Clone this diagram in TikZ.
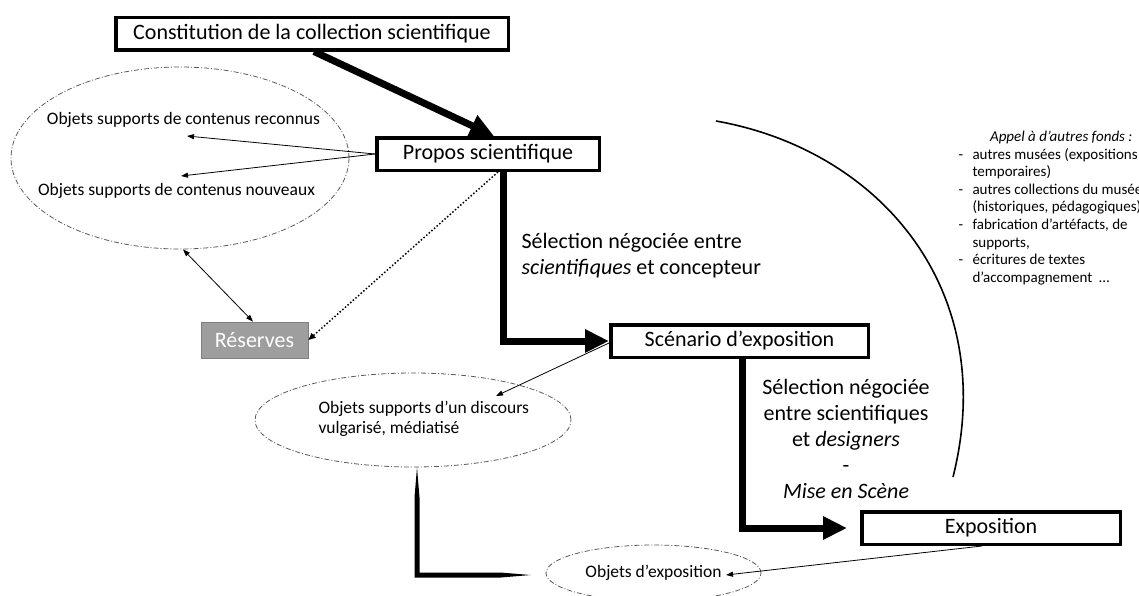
\documentclass[tikz,border=0pt]{standalone}
\usepackage{fontspec}
\setmainfont{Carlito}
\usetikzlibrary{arrows.meta,calc,shapes.geometric}

\begin{document}
\begin{tikzpicture}[x=1pt,y=-1pt,
  box/.style={draw,line width=3.5pt,minimum height=32.5pt,inner sep=0pt,font=\fontsize{22}{26}\selectfont},
  oval/.style={ellipse,draw=black!65,line width=0.8pt,dash pattern=on 5pt off 2pt on 1pt off 2pt,inner sep=0pt},
  small/.style={font=\fontsize{17.5}{20}\selectfont},
  big/.style={font=\fontsize{22}{26}\selectfont},
  thin/.style={line width=0.8pt,-{Triangle[length=7pt,width=5pt]}},
  fat/.style={line width=7pt,-{Triangle[length=24pt,width=22pt]}}]
  \useasboundingbox (0,0) rectangle (1139,595);
  \clip (0,0) rectangle (1139,595);
  % main chain
  \node[box,minimum width=392.5pt] (constitution) at (312,33.5) {Constitution de la collection scientifique};
  \node[box,minimum width=222.5pt] (propos) at (488,154) {Propos scientifique};
  \node[box,minimum width=257.5pt] (scenario) at (739.5,341) {Scénario d’exposition};
  \node[box,minimum width=258.5pt] (exposition) at (991,528) {Exposition};
  \node[fill=black!38,draw=black!50,line width=0.8pt,minimum width=107pt,minimum height=36pt,inner sep=0pt,
        text=white,big] (reserves) at (254.5,340) {Réserves};
  % ovals
  \node[oval,minimum width=338pt,minimum height=182pt] (ovalA) at (180,158) {};
  \node[oval,minimum width=316pt,minimum height=94pt] (ovalB) at (413,420) {};
  \node[oval,minimum width=215pt,minimum height=56pt,small] (ovalC) at (653.5,573) {Objets d’exposition};
  \node[small] (reconnus) at (183.5,120) {Objets supports de contenus reconnus};
  \node[small] (nouveaux) at (176.5,191) {Objets supports de contenus nouveaux};
  \node[small,align=left,anchor=west] (discours) at (315,419) {Objets supports d’un discours\\vulgarisé, médiatisé};
  % labels
  \node[big,align=left,anchor=west] (choix) at (518,256) {Sélection négociée entre\\\textit{scientifiques} et concepteur};
  \node[big,align=center] (mise) at (846,438.5) {Sélection négociée\\entre scientifiques\\et \textit{designers}\\-\\\textit{Mise en Scène}};
  \node[anchor=east,font=\fontsize{15}{17.6}\selectfont\itshape] (appel) at (1136,137) {Appel à d’autres fonds :};
  \node[anchor=west,align=left,font=\fontsize{15}{17.6}\selectfont] (fonds) at (955,216.5)
    {\makebox[14pt][l]{-}autres musées (expositions\\
     \hspace*{14pt}temporaires)\\
     \makebox[14pt][l]{-}autres collections du musée\\
     \hspace*{14pt}(historiques, pédagogiques),\\
     \makebox[14pt][l]{-}fabrication d’artéfacts, de\\
     \hspace*{14pt}supports,\\
     \makebox[14pt][l]{-}écritures de textes\\
     \hspace*{14pt}d’accompagnement~ …};
  % free ends
  \coordinate (pA) at (187,136);
  \coordinate (pB) at (181,176);
  \coordinate (pC) at (496,396);
  \coordinate (pD) at (726,575);
  % thick arrows
  \draw[fat] ([xshift=2pt]constitution.south) -- ([xshift=6pt]propos.north);
  \draw[fat] ([xshift=15pt]propos.south) |- (scenario.west);
  \draw[fat,shorten >=13pt] ([xshift=2.5pt]scenario.south) |- (exposition.west);
  % thin arrows
  \draw[thin] (propos.west) -- (pA);
  \draw[thin] (propos.west) -- (pB);
  \draw[line width=0.8pt,{Triangle[length=7pt,width=5pt]}-{Triangle[length=7pt,width=5pt]}]
    ([xshift=3pt]ovalA.south) -- ([xshift=-1.5pt]reserves.north);
  \draw[dotted,line width=1.5pt,-{Triangle[length=7pt,width=6pt]}] ([xshift=10pt]propos.south) -- (reserves.east);
  \draw[thin] ([yshift=-2pt]scenario.west) -- (pC);
  \draw[thin] ([xshift=-9pt]exposition.south) -- (pD);
  % tapered link between the ovals
  \coordinate (tipB) at ([xshift=4pt]ovalB.south);
  \coordinate (tipC) at ([xshift=-15pt,yshift=-2pt]ovalC.west);
  \fill (tipB) -- ++(-2.5,30) |- ($(tipC)+(-30,2.5)$) -- (tipC) -- ++(-30,-2.5)
    -| ($(tipB)+(2.5,30)$) -- cycle;
  % arc round the selection
  \draw[line width=1.6pt] (716,121) .. controls (880,150) and (1000,290) .. (953,477);
\end{tikzpicture}
\end{document}
